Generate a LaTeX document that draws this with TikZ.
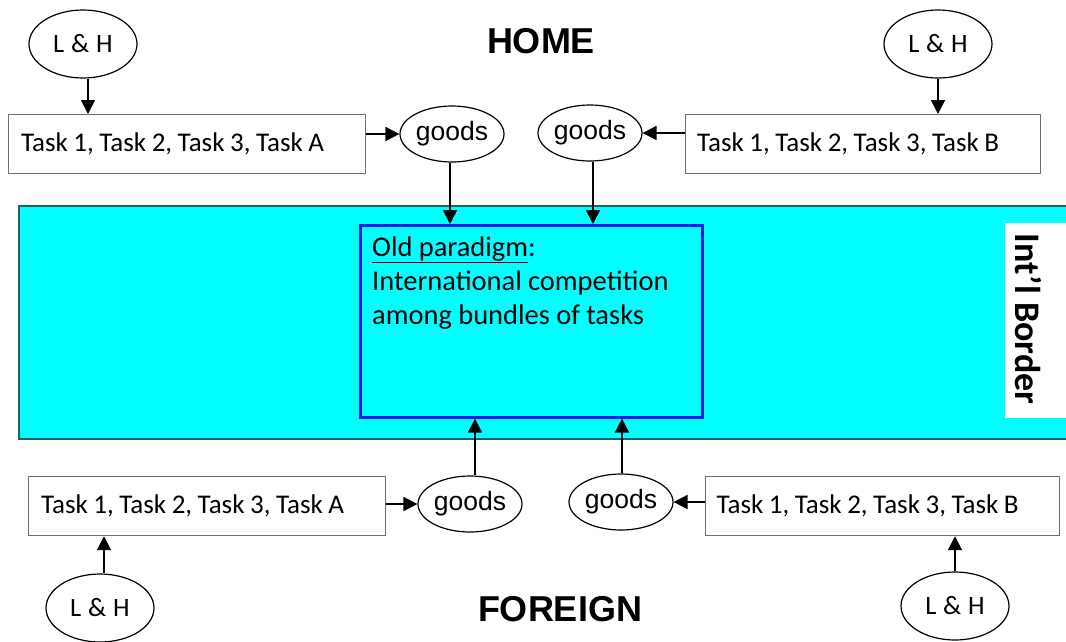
\documentclass[tikz,border=0pt]{standalone}
\usepackage{fontspec}
\setmainfont{Carlito}
\newfontfamily\arialf{Liberation Sans}
\usetikzlibrary{arrows.meta,shapes.geometric}
\definecolor{bandcyan}{HTML}{00FFFF}
\definecolor{bandedge}{HTML}{1F5F5F}
\definecolor{oldblue}{HTML}{1A1AEE}
\definecolor{boxgray}{HTML}{6E6E6E}
\newcommand\tightsp{\spaceskip=0.205em\relax}
\newcommand\lhsp{\spaceskip=0.26em\relax}
\newcommand\obsp{\spaceskip=0.22em\relax}
\newcommand\tasktext[1]{\makebox[332pt][l]{#1}}
\tikzset{
  lh/.style={draw, ellipse, line width=1.2pt, minimum width=108pt, minimum height=68pt, inner sep=0pt, font=\fontsize{26.5}{30}\selectfont\lhsp},
  gd/.style={draw, ellipse, line width=1.2pt, minimum width=104pt, minimum height=56pt, inner sep=0pt, font=\arialf\fontsize{26.5}{30}\selectfont},
  taskbox/.style={draw=boxgray, line width=1.2pt, rectangle, anchor=north west, minimum width=357pt, minimum height=59pt, inner xsep=11pt, inner ysep=0pt, font=\fontsize{27}{30}\selectfont\tightsp},
  arr/.style={-{Triangle[length=14pt,width=14pt]}, line width=1.8pt},
  title/.style={font=\arialf\bfseries\fontsize{36}{40}\selectfont}
}
\begin{document}
\begin{tikzpicture}[x=1pt,y=-1pt]
\useasboundingbox (0,0) rectangle (1066,641);
% band
\fill[bandcyan] (19,206) rectangle (1066,439);
\draw[bandedge, line width=1.5pt] (1066,206) -- (19,206) -- (19,439) -- (1066,439);
\fill[white] (1005,223) rectangle (1066,418);
\node[rotate=-90, font=\bfseries\fontsize{36}{40}\selectfont] (border) at (1028,319) {Int’l Border};
% old paradigm box
\node[draw=oldblue, line width=2.6pt, rectangle, minimum width=342pt, minimum height=192pt, anchor=north west] (ob) at (359,224) {};
\node[anchor=base west, align=left, inner sep=0pt, font=\fontsize{28.5}{34}\selectfont\obsp] (obtext) at (372,324) {\underline{Old paradigm}:\\International competition\\among bundles of tasks};
% titles
\node[title] (home) at (541,41) {HOME};
\node[title] (foreign) at (560,609) {FOREIGN};
% top
\node[lh] (lh1) at (83,44) {L \& H};
\node[lh] (lh2) at (938,44) {L \& H};
\node[taskbox] (t1) at (8,114) {\tasktext{Task 1, Task 2, Task 3, Task A}};
\node[taskbox, minimum width=355pt] (t2) at (685,114) {\tasktext{Task 1, Task 2, Task 3, Task B}};
\node[gd] (g1) at (452,134) {goods};
\node[gd] (g2) at (590,133) {goods};
% bottom
\node[taskbox] (t3) at (28,476) {\tasktext{Task 1, Task 2, Task 3, Task A}};
\node[taskbox, minimum width=354pt] (t4) at (705,476) {\tasktext{Task 1, Task 2, Task 3, Task B}};
\node[gd] (g3) at (470,504) {goods};
\node[gd] (g4) at (621,502) {goods};
\node[lh] (lh3) at (100,608) {L \& H};
\node[lh] (lh4) at (955,606) {L \& H};
% arrows top
\draw[arr] ([xshift=5pt]lh1.south) -- ([xshift=5pt]lh1.south |- t1.north);
\draw[arr] (lh2.south) -- (lh2.south |- t2.north);
\draw[arr] (t1.east |- g1) -- (g1.west);
\draw[arr] (t2.west |- g2) -- (g2.east);
\draw[arr] ([xshift=-2pt]g1.south) -- ([xshift=-2pt]g1.south |- ob.north);
\draw[arr] ([xshift=3pt]g2.south) -- ([xshift=3pt]g2.south |- ob.north);
% arrows bottom
\draw[arr] ([xshift=4pt]lh3.north) -- ([xshift=4pt]lh3.north |- t3.south);
\draw[arr] (lh4.north) -- (lh4.north |- t4.south);
\draw[arr] (t3.east |- g3) -- (g3.west);
\draw[arr] (t4.west |- g4) -- (g4.east);
\draw[arr] ([xshift=5pt]g3.north) -- ([xshift=5pt]g3.north |- ob.south);
\draw[arr] ([xshift=1pt]g4.north) -- ([xshift=1pt]g4.north |- ob.south);
\end{tikzpicture}
\end{document}
